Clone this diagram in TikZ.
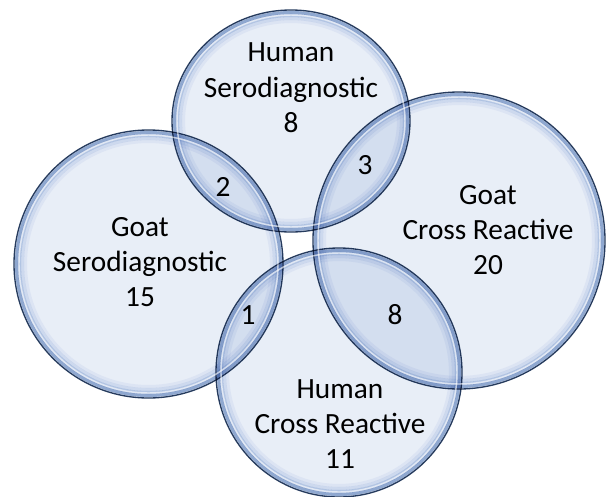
\documentclass[tikz,border=0pt]{standalone}
\usepackage{fontspec}
\setmainfont{Carlito}
\definecolor{bubin}{RGB}{232,238,247}
\definecolor{bubfaint}{RGB}{242,245,251}
\definecolor{bubsoft}{RGB}{226,233,246}
\definecolor{bubmid}{RGB}{198,213,236}
\definecolor{bubrim}{RGB}{158,180,215}
\definecolor{bubline}{RGB}{40,62,96}

\begin{document}
\begin{tikzpicture}[x=0.75pt, y=-0.75pt,
    bubfill/.style={fill=bubin},
    bubring/.style={draw=#1, line width=2.3pt},
    bubedge/.style={draw=bubline, line width=1pt},
    glint/.style={draw=white, draw opacity=0.6, line width=1.1pt},
    setlabel/.style={align=center, font=\fontsize{22}{26.5}\selectfont},
    countlabel/.style={font=\fontsize{22}{26.5}\selectfont}]
  \useasboundingbox (0,0) rectangle (612,497);
  \fill[white] (0,0) rectangle (612,497);

  % the four sets: goat sero, human sero, goat cross, human cross
  \begin{scope}[blend group=multiply]
    \foreach \cx/\cy/\rx/\ry in {148.5/264/134.5/134, 291/121/119/111,
                                 459/240.5/146/148.5, 339/372.5/123/124.5}
    {
      \path[bubfill] (\cx,\cy) ellipse [x radius=\rx, y radius=\ry];
      \path[bubring=bubfaint] (\cx,\cy) ellipse [x radius=\rx-11.5, y radius=\ry-11.5];
      \path[bubring=bubsoft] (\cx,\cy) ellipse [x radius=\rx-8.5, y radius=\ry-8.5];
      \path[bubring=bubmid] (\cx,\cy) ellipse [x radius=\rx-5.5, y radius=\ry-5.5];
      \path[bubring=bubrim] (\cx,\cy) ellipse [x radius=\rx-2.5, y radius=\ry-2.5];
      \path[bubedge] (\cx,\cy) ellipse [x radius=\rx, y radius=\ry];
    }
  \end{scope}
  \foreach \cx/\cy/\rx/\ry in {148.5/264/134.5/134, 291/121/119/111,
                               459/240.5/146/148.5, 339/372.5/123/124.5}
    \path[glint] (\cx,\cy) ellipse [x radius=\rx-5, y radius=\ry-5];

  % set names
  \node[setlabel] (hsText) at (291,88)  {Human\\Serodiagnostic\\8};
  \node[setlabel] (gsText) at (140,262) {Goat\\Serodiagnostic\\15};
  \node[setlabel] (gcText) at (488,230) {Goat\\Cross Reactive\\20};
  \node[setlabel] (hcText) at (340,424) {Human\\Cross Reactive\\11};

  % overlaps
  \node[countlabel] (hsgs) at (223,187) {2};
  \node[countlabel] (hsgc) at (365,165) {3};
  \node[countlabel] (gshc) at (248,315) {1};
  \node[countlabel] (gchc) at (395,315) {8};
\end{tikzpicture}
\end{document}
